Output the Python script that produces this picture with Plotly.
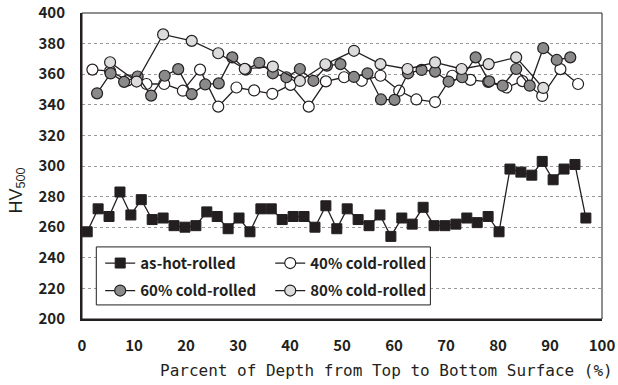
import plotly.graph_objects as go

# ---------------- data ----------------
x_hot = [1.0, 3.1, 5.2, 7.3, 9.4, 11.4, 13.5, 15.6, 17.7, 19.8, 21.9, 24.0, 26.0, 28.1,
         30.2, 32.3, 34.4, 36.4, 38.5, 40.6, 42.7, 44.8, 46.9, 49.0, 51.0, 53.1, 55.2,
         57.3, 59.4, 61.5, 63.5, 65.6, 67.7, 69.8, 71.9, 74.0, 76.0, 78.1, 80.2, 82.3,
         84.4, 86.5, 88.5, 90.6, 92.7, 94.8, 96.9]
hv_hot = [257, 272, 267, 283, 268, 278, 265, 266, 261, 260, 261, 270, 267, 259,
          266, 257, 272, 272, 265, 267, 267, 260, 274, 259, 272, 265, 261,
          268, 254, 266, 262, 273, 261, 261, 262, 266, 263, 267, 257, 298,
          296, 294, 303, 291, 298, 301, 266]

x_40 = [2.0, 5.4, 8.8, 12.4, 15.8, 19.4, 22.7, 26.2, 29.7, 33.1, 36.6, 40.1, 43.6,
        46.9, 50.4, 53.8, 57.4, 61.0, 64.3, 67.9, 71.2, 74.7, 78.1, 81.6, 84.7,
        88.5, 92.0, 95.4]
hv_40 = [363, 362, 356, 353.6, 353.6, 349.2, 363, 338.8, 351.3, 349.4, 347.2, 353, 338.8,
         355.3, 358, 355.7, 359, 349.2, 343.5, 341.8, 359, 356.3, 355, 351.3, 355.5,
         345.8, 363.3, 353.6]

x_60 = [2.9, 5.5, 8.1, 10.7, 13.3, 15.9, 18.5, 21.1, 23.7, 26.3, 28.9, 31.5, 34.1,
        36.7, 39.3, 41.9, 44.5, 47.1, 49.7, 52.3, 54.9, 57.5, 60.1, 62.7, 65.3,
        67.9, 70.5, 73.1, 75.7, 78.3, 80.9, 83.5, 86.1, 88.7, 91.3, 93.9]
hv_60 = [347.5, 360.5, 355, 358.5, 346, 359, 363.3, 347, 353.3, 354, 371, 363, 367.5,
         360.6, 358, 363.4, 355.7, 365.6, 366.6, 358.2, 360.6, 343.5, 343.2, 360.6, 362.8,
         361.7, 355.2, 358, 371, 355.3, 352.5, 363.4, 352.5, 377, 369.3, 371]

x_80 = [5.4, 10.5, 15.6, 21.1, 26.2, 31.3, 36.7, 41.9, 46.8, 52.3, 57.4, 62.6, 67.9,
        73.0, 78.2, 83.5, 88.7]
hv_80 = [367.8, 355.2, 386, 381.8, 373.7, 363.5, 365, 355.6, 366.5, 375.3, 366.6, 363.4,
         367.7, 363.4, 366.6, 371, 351]

x_ticks = [0, 10, 20, 30, 40, 50, 60, 70, 80, 90, 100]
y_ticks = [200, 220, 240, 260, 280, 300, 320, 340, 360, 380, 400]

# ---------------- style ----------------
DARK = '#231f20'
TICKFONT = dict(family='Noto Sans CJK JP', size=15, color=DARK, weight='bold')
LEGFONT = dict(family='Noto Sans CJK JP', size=15, color=DARK, weight='bold')

fig = go.Figure()
fig.add_trace(go.Scatter(
    x=x_hot, y=hv_hot, mode='lines+markers', name='as-hot-rolled',
    line=dict(color=DARK, width=1.3),
    marker=dict(symbol='square', size=10, color=DARK, line=dict(color=DARK, width=1)),
    legend='legend', legendgroup='a'))
fig.add_trace(go.Scatter(
    x=x_40, y=hv_40, mode='lines+markers', name='40% cold-rolled',
    line=dict(color=DARK, width=1.3),
    marker=dict(symbol='circle', size=11, color='white', line=dict(color=DARK, width=1.2)),
    legend='legend2', legendgroup='b'))
fig.add_trace(go.Scatter(
    x=x_60, y=hv_60, mode='lines+markers', name='60% cold-rolled',
    line=dict(color=DARK, width=1.3),
    marker=dict(symbol='circle', size=11, color='#8a8a8a', line=dict(color=DARK, width=1.2)),
    legend='legend', legendgroup='c'))
fig.add_trace(go.Scatter(
    x=x_80, y=hv_80, mode='lines+markers', name='80% cold-rolled',
    line=dict(color=DARK, width=1.3),
    marker=dict(symbol='circle', size=11, color='#dcdcdc', line=dict(color=DARK, width=1.2)),
    legend='legend2', legendgroup='d'))

fig.update_layout(
    width=618, height=385,
    margin=dict(l=82, r=16, t=13, b=66),
    plot_bgcolor='white', paper_bgcolor='white',
    showlegend=True,
    xaxis=dict(range=[0, 100], tickvals=x_ticks, showgrid=False, zeroline=False,
               showline=True, linecolor=DARK, linewidth=2, ticks='', automargin=False,
               tickfont=TICKFONT, ticklabelstandoff=12),
    yaxis=dict(range=[200, 400], tickvals=y_ticks, showgrid=True, gridcolor='#9a9a9a',
               griddash='dot', gridwidth=1, zeroline=False, automargin=False,
               showline=True, linecolor=DARK, linewidth=2, ticks='',
               tickfont=TICKFONT, ticklabelstandoff=12),
    legend=dict(x=0.035, y=0.236, xanchor='left', yanchor='top', orientation='v',
                bgcolor='rgba(0,0,0,0)', borderwidth=0, font=LEGFONT,
                tracegroupgap=5, itemwidth=30),
    legend2=dict(x=0.362, y=0.236, xanchor='left', yanchor='top', orientation='v',
                 bgcolor='rgba(0,0,0,0)', borderwidth=0, font=LEGFONT,
                 tracegroupgap=5, itemwidth=30),
    shapes=[
        dict(type='rect', xref='paper', yref='paper', x0=0, x1=1, y0=0, y1=1,
             line=dict(color=DARK, width=1), layer='above'),
        dict(type='rect', xref='paper', yref='paper', x0=0.0275, x1=0.67, y0=0.046, y1=0.2356,
             line=dict(color=DARK, width=1), fillcolor='white', layer='above'),
    ],
    annotations=[
        dict(text='Parcent of Depth from Top to Bottom Surface (%)', xref='paper', yref='paper',
             x=0.585, y=-0.168, xanchor='center', yanchor='middle', showarrow=False,
             font=dict(family='DejaVu Sans Mono', size=16, color=DARK)),
        dict(text='HV<sub>500</sub>', xref='paper', yref='paper',
             x=-0.125, y=0.42, xanchor='center', yanchor='middle', showarrow=False,
             textangle=-90, font=dict(family='Liberation Sans', size=18, color=DARK)),
    ],
)

fig.write_html('out.html')
